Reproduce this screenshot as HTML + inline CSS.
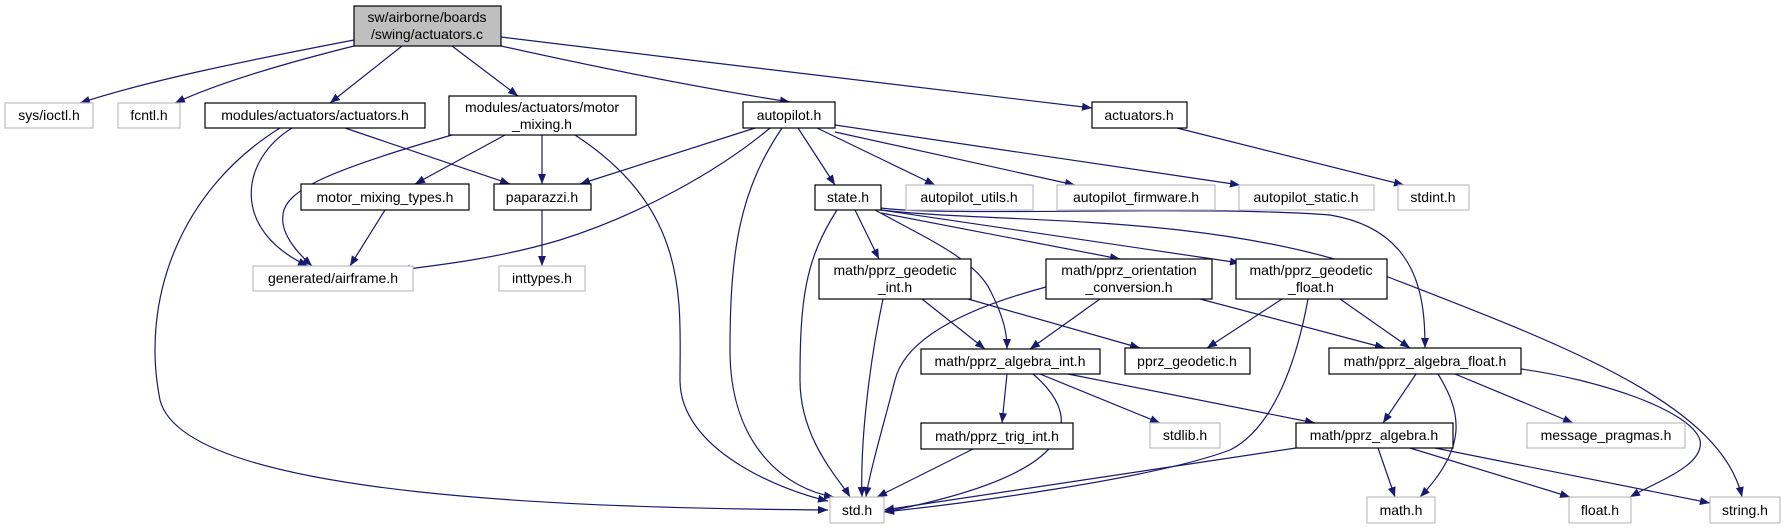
<!DOCTYPE html>
<html><head><meta charset="utf-8"><style>
html,body{margin:0;padding:0;background:#fff}
svg{display:block}
text{font-family:"Liberation Sans",sans-serif;font-size:14px;fill:#000;text-anchor:middle}
.n{fill:#fff;stroke:#000;stroke-width:1.2}
.g{fill:#fff;stroke:#bfbfbf;stroke-width:1.2}
.r{fill:#bfbfbf;stroke:#000;stroke-width:1.2}
path.e{fill:none;stroke:#191970;stroke-width:1.2;marker-end:url(#a)}
</style></head><body>
<svg width="1786" height="529" viewBox="0 0 1786 529" xmlns="http://www.w3.org/2000/svg">
<defs><marker id="a" markerUnits="userSpaceOnUse" markerWidth="11" markerHeight="9" refX="10" refY="4" orient="auto"><path d="M0,0 L10,4 L0,8 z" fill="#191970"/></marker></defs>

<!-- edges -->
<path class="e" d="M354,40 C250,60 150,80 80,103"/>
<path class="e" d="M354,46 C290,62 220,82 175,103"/>
<path class="e" d="M402,46 L330,103"/>
<path class="e" d="M452,46 L518,96"/>
<path class="e" d="M501,46 C600,68 700,88 790,102"/>
<path class="e" d="M501,37 C700,62 950,90 1092,108"/>
<path class="e" d="M292,128 C240,160 230,230 308,266"/>
<path class="e" d="M280,128 C180,190 140,300 160,400 C185,500 600,508 828,510"/>
<path class="e" d="M345,128 L510,184"/>
<path class="e" d="M452,135 C330,170 285,190 283,215 C280,235 300,255 312,266"/>
<path class="e" d="M505,135 L415,184"/>
<path class="e" d="M542,135 L542,184"/>
<path class="e" d="M575,135 C690,210 680,300 680,380 C680,450 780,490 828,501"/>
<path class="e" d="M385,210 L350,266"/>
<path class="e" d="M542,210 L542,266"/>
<path class="e" d="M755,128 L580,184"/>
<path class="e" d="M770,128 C720,170 640,215 560,240 C500,258 440,265 400,270"/>
<path class="e" d="M782,128 C740,190 730,250 730,350 C730,450 790,490 834,497"/>
<path class="e" d="M798,128 L835,185"/>
<path class="e" d="M817,128 L935,185"/>
<path class="e" d="M835,132 L1075,185"/>
<path class="e" d="M835,125 L1240,185"/>
<path class="e" d="M1177,128 L1404,185"/>
<path class="e" d="M837,210 C805,260 800,300 800,380 C800,440 840,480 850,497"/>
<path class="e" d="M855,210 L879,259"/>
<path class="e" d="M875,210 C930,240 975,260 990,290 C1005,320 1007,335 1007,349"/>
<path class="e" d="M881,213 L1120,259"/>
<path class="e" d="M881,210 L1240,263"/>
<path class="e" d="M881,208 C950,217 1200,205 1330,215 C1420,230 1425,300 1425,348"/>
<path class="e" d="M881,210 C1000,224 1200,212 1370,270 C1550,340 1720,400 1742,497"/>
<path class="e" d="M883,299 C870,360 860,440 862,497"/>
<path class="e" d="M922,299 L985,349"/>
<path class="e" d="M968,299 L1140,348"/>
<path class="e" d="M1046,287 C960,310 905,340 895,380 C885,420 870,470 866,497"/>
<path class="e" d="M1100,299 L1030,349"/>
<path class="e" d="M1200,299 L1385,348"/>
<path class="e" d="M1282,299 L1207,348"/>
<path class="e" d="M1308,299 C1295,370 1270,430 1230,450 C1150,480 950,505 884,512"/>
<path class="e" d="M1340,299 L1410,348"/>
<path class="e" d="M1007,374 L1002,423"/>
<path class="e" d="M1033,374 C1075,410 1100,470 884,512"/>
<path class="e" d="M1040,374 L1160,423"/>
<path class="e" d="M1068,374 L1315,423"/>
<path class="e" d="M973,449 L877,497"/>
<path class="e" d="M1416,374 L1383,423"/>
<path class="e" d="M1438,374 C1460,410 1470,445 1420,497"/>
<path class="e" d="M1455,374 L1573,423"/>
<path class="e" d="M1521,369 C1600,380 1690,410 1700,440 C1705,465 1660,480 1630,497"/>
<path class="e" d="M1296,448 L884,510"/>
<path class="e" d="M1378,448 L1395,497"/>
<path class="e" d="M1410,448 L1570,497"/>
<path class="e" d="M1435,448 L1710,503"/>

<!-- nodes -->
<rect class="r" x="354" y="6" width="147" height="40"/>
<text x="427" y="22">sw/airborne/boards</text><text x="427" y="39">/swing/actuators.c</text>

<rect class="g" x="5" y="103" width="88" height="25"/><text x="49" y="120">sys/ioctl.h</text>
<rect class="g" x="118" y="103" width="62" height="25"/><text x="149" y="120">fcntl.h</text>
<rect class="n" x="205" y="103" width="220" height="25"/><text x="315" y="120">modules/actuators/actuators.h</text>
<rect class="n" x="449" y="96" width="187" height="39"/><text x="542" y="112">modules/actuators/motor</text><text x="542" y="129">_mixing.h</text>
<rect class="n" x="743" y="102" width="92" height="26"/><text x="789" y="120">autopilot.h</text>
<rect class="n" x="1092" y="102" width="95" height="26"/><text x="1139" y="120">actuators.h</text>

<rect class="n" x="301" y="184" width="168" height="26"/><text x="385" y="202">motor_mixing_types.h</text>
<rect class="n" x="494" y="184" width="97" height="26"/><text x="542" y="202">paparazzi.h</text>
<rect class="n" x="815" y="185" width="66" height="25"/><text x="848" y="202">state.h</text>
<rect class="g" x="906" y="185" width="127" height="25"/><text x="969" y="202">autopilot_utils.h</text>
<rect class="g" x="1057" y="185" width="158" height="25"/><text x="1136" y="202">autopilot_firmware.h</text>
<rect class="g" x="1239" y="185" width="135" height="25"/><text x="1306" y="202">autopilot_static.h</text>
<rect class="g" x="1398" y="185" width="71" height="25"/><text x="1433" y="202">stdint.h</text>

<rect class="g" x="253" y="266" width="160" height="25"/><text x="333" y="283">generated/airframe.h</text>
<rect class="g" x="499" y="266" width="86" height="25"/><text x="542" y="283">inttypes.h</text>
<rect class="n" x="819" y="259" width="152" height="40"/><text x="895" y="275">math/pprz_geodetic</text><text x="895" y="292">_int.h</text>
<rect class="n" x="1046" y="259" width="166" height="40"/><text x="1129" y="275">math/pprz_orientation</text><text x="1129" y="292">_conversion.h</text>
<rect class="n" x="1236" y="259" width="151" height="40"/><text x="1311" y="275">math/pprz_geodetic</text><text x="1311" y="292">_float.h</text>

<rect class="n" x="921" y="349" width="179" height="25"/><text x="1010" y="366">math/pprz_algebra_int.h</text>
<rect class="n" x="1125" y="348" width="125" height="26"/><text x="1187" y="366">pprz_geodetic.h</text>
<rect class="n" x="1329" y="348" width="192" height="26"/><text x="1425" y="366">math/pprz_algebra_float.h</text>

<rect class="n" x="921" y="423" width="152" height="26"/><text x="997" y="441">math/pprz_trig_int.h</text>
<rect class="g" x="1150" y="423" width="70" height="25"/><text x="1185" y="440">stdlib.h</text>
<rect class="n" x="1296" y="423" width="157" height="25"/><text x="1374" y="440">math/pprz_algebra.h</text>
<rect class="g" x="1527" y="423" width="158" height="25"/><text x="1606" y="440">message_pragmas.h</text>

<rect class="g" x="830" y="497" width="54" height="26"/><text x="857" y="515">std.h</text>
<rect class="g" x="1367" y="497" width="68" height="26"/><text x="1401" y="515">math.h</text>
<rect class="g" x="1569" y="497" width="62" height="26"/><text x="1600" y="515">float.h</text>
<rect class="g" x="1710" y="497" width="70" height="26"/><text x="1745" y="515">string.h</text>
</svg>
</body></html>
